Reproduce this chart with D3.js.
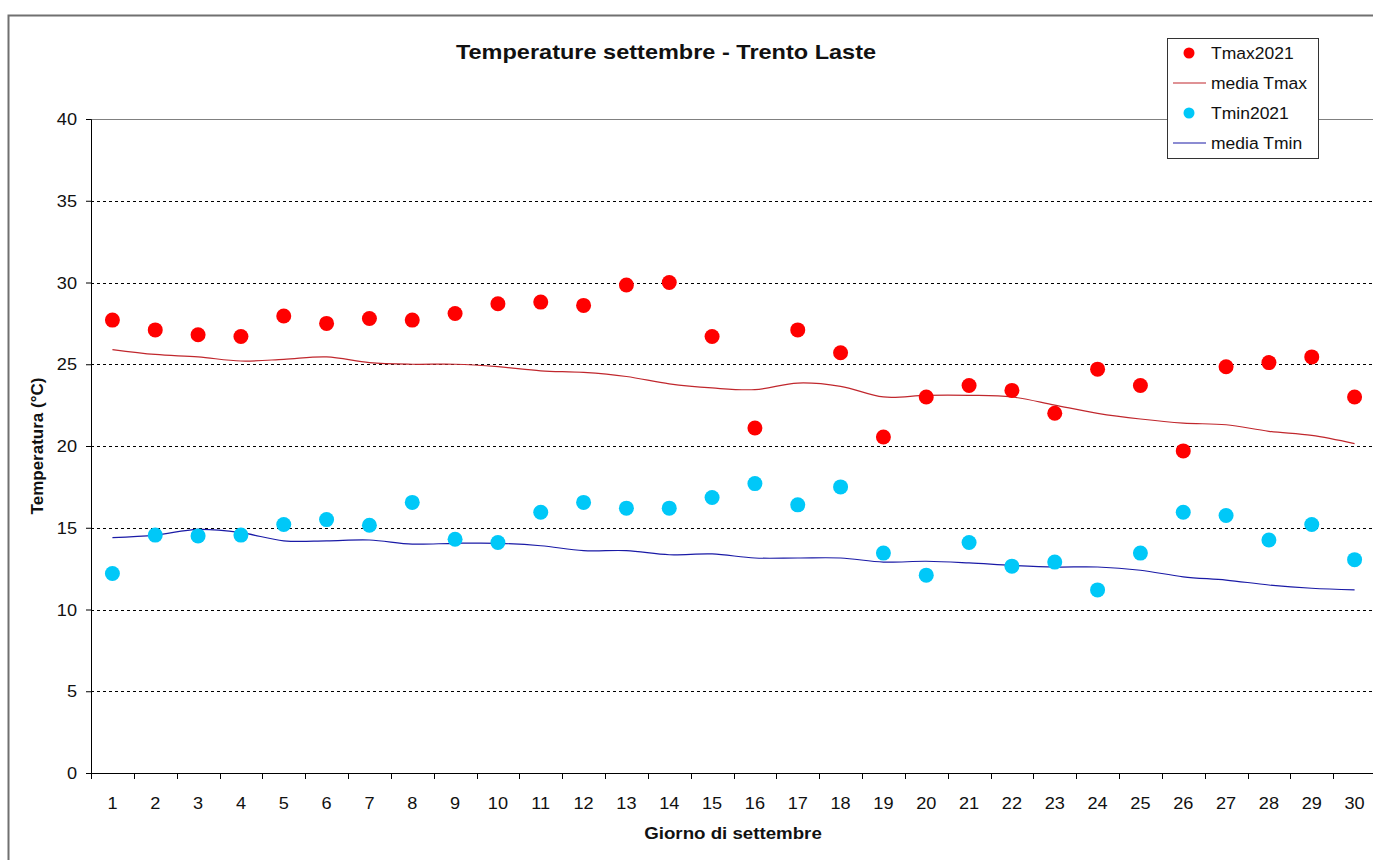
<!DOCTYPE html>
<html><head><meta charset="utf-8">
<script src="https://cdn.jsdelivr.net/npm/d3@7"></script>
<style>body{margin:0;background:#fff;overflow:hidden}svg{display:block;font-family:"Liberation Sans",Arial,sans-serif}</style>
</head><body>
<script>
const days = d3.range(1, 31);
const tmax2021 = [27.7,27.1,26.8,26.7,27.95,27.5,27.8,27.7,28.1,28.7,28.8,28.6,29.85,30.0,26.7,21.1,27.1,25.7,20.55,23.0,23.7,23.4,22.0,24.7,23.7,19.7,24.85,25.1,25.45,23.0];
const mediaTmax = [25.9,25.6,25.45,25.2,25.3,25.45,25.1,25.0,25.0,24.85,24.6,24.5,24.25,23.8,23.55,23.45,23.85,23.65,23.0,23.1,23.1,23.0,22.5,22.0,21.65,21.4,21.3,20.9,20.65,20.15];
const tmin2021 = [12.2,14.55,14.5,14.55,15.2,15.5,15.15,16.55,14.3,14.1,15.95,16.55,16.2,16.2,16.85,17.7,16.4,17.5,13.45,12.1,14.1,12.65,12.9,11.2,13.45,15.95,15.75,14.25,15.2,13.05];
const mediaTmin = [14.4,14.55,14.9,14.7,14.2,14.2,14.25,14.0,14.05,14.05,13.9,13.6,13.6,13.35,13.4,13.15,13.15,13.15,12.9,12.95,12.85,12.7,12.6,12.6,12.4,12.0,11.8,11.5,11.3,11.2];
const yTicks = [0,5,10,15,20,25,30,35,40];
const legendItems = [
  {label:"Tmax2021", type:"dot", color:"#ff0000"},
  {label:"media Tmax", type:"line", color:"#c0272d"},
  {label:"Tmin2021", type:"dot", color:"#00c8f8"},
  {label:"media Tmin", type:"line", color:"#1a1aa6"}
];

const W = 1373, H = 860;
const svg = d3.select("body").append("svg").attr("width", W).attr("height", H);
const L = 91, R = 1376, T = 119, B = 773;
const SX = 1.1; // horizontal stretch of text in the reference

function txt(g, x, y, s, size, anchor, bold, sx) {
  return g.append("text").attr("transform", `translate(${x},${y}) scale(${sx||SX},1)`)
    .attr("text-anchor", anchor).attr("font-size", size).attr("font-weight", bold ? "bold" : "normal")
    .attr("fill", "#111").text(s);
}

// outer frame
svg.append("path").attr("d", `M8.5,${H} V15.5 H${W}`).attr("fill","none").attr("stroke","#707070").attr("stroke-width",2);

const x = d3.scaleBand().domain(days).range([L, R]);
const y = d3.scaleLinear().domain([0, 40]).range([B, T]);
const cx = d => x(d) + x.bandwidth()/2;

// gridlines
svg.append("g").selectAll("line").data(yTicks.filter(v => v > 0 && v < 40)).join("line")
  .attr("x1", L).attr("x2", R).attr("y1", d => Math.round(y(d))+0.5).attr("y2", d => Math.round(y(d))+0.5)
  .attr("stroke","#000").attr("stroke-width",1).attr("stroke-dasharray","3,3");
// top border
svg.append("line").attr("x1",L).attr("x2",R).attr("y1",T+0.5).attr("y2",T+0.5).attr("stroke","#808080").attr("stroke-width",1);

// y axis
const yAxis = svg.append("g").attr("transform", `translate(${L},0)`)
  .call(d3.axisLeft(y).tickValues(yTicks).tickSize(5).tickFormat(""));
yAxis.select(".domain").attr("stroke","#000");
const yl = svg.append("g");
yTicks.forEach(v => txt(yl, 77, y(v) + 6, String(v), 16.5, "end", false));

// x axis
const xAxisG = svg.append("g").attr("transform", `translate(0,${B})`);
xAxisG.append("line").attr("x1",L).attr("x2",R).attr("y1",0.5).attr("y2",0.5).attr("stroke","#000");
xAxisG.selectAll("line.tk").data(days).join("line").attr("class","tk")
  .attr("x1", d => Math.round(x(d))+0.5).attr("x2", d => Math.round(x(d))+0.5).attr("y1",0).attr("y2",6).attr("stroke","#000");
days.forEach(d => txt(xAxisG, cx(d), 36, String(d), 16.5, "middle", false));

// lines
const line = d3.line().x((d,i) => cx(days[i])).y(d => y(d)).curve(d3.curveCatmullRom.alpha(0.5));
svg.append("path").datum(mediaTmax).attr("d", line).attr("fill","none").attr("stroke","#c0272d").attr("stroke-width",1.2);
svg.append("path").datum(mediaTmin).attr("d", line).attr("fill","none").attr("stroke","#1a1aa6").attr("stroke-width",1.2);

// dots
svg.append("g").selectAll("circle").data(tmax2021).join("circle")
  .attr("cx", (d,i) => cx(days[i])).attr("cy", d => y(d)).attr("r", 7.5).attr("fill","#ff0000");
svg.append("g").selectAll("circle").data(tmin2021).join("circle")
  .attr("cx", (d,i) => cx(days[i])).attr("cy", d => y(d)).attr("r", 7.5).attr("fill","#00c8f8");

// titles
txt(svg, 666, 59, "Temperature settembre - Trento Laste", 21, "middle", true, 1.12);
svg.append("text").attr("transform", `translate(43,${(T+B)/2}) rotate(-90)`).attr("text-anchor","middle")
  .attr("font-weight","bold").attr("font-size",17).attr("fill","#111").text("Temperatura (°C)");
txt(svg, 733, 839, "Giorno di settembre", 17, "middle", true);

// legend
const lg = svg.append("g");
lg.append("rect").attr("x",1167.5).attr("y",38.5).attr("width",151).attr("height",120).attr("fill","#fff").attr("stroke","#333").attr("stroke-width",1);
legendItems.forEach((it, i) => {
  const yy = 53 + i*30;
  if (it.type === "dot") lg.append("circle").attr("cx",1189).attr("cy",yy).attr("r",5.5).attr("fill",it.color);
  else lg.append("line").attr("x1",1173).attr("x2",1206).attr("y1",yy).attr("y2",yy).attr("stroke",it.color).attr("stroke-width",1.2);
  txt(lg, 1211, yy + 6, it.label, 17, "start", false, 1.03);
});
</script>
</body></html>
